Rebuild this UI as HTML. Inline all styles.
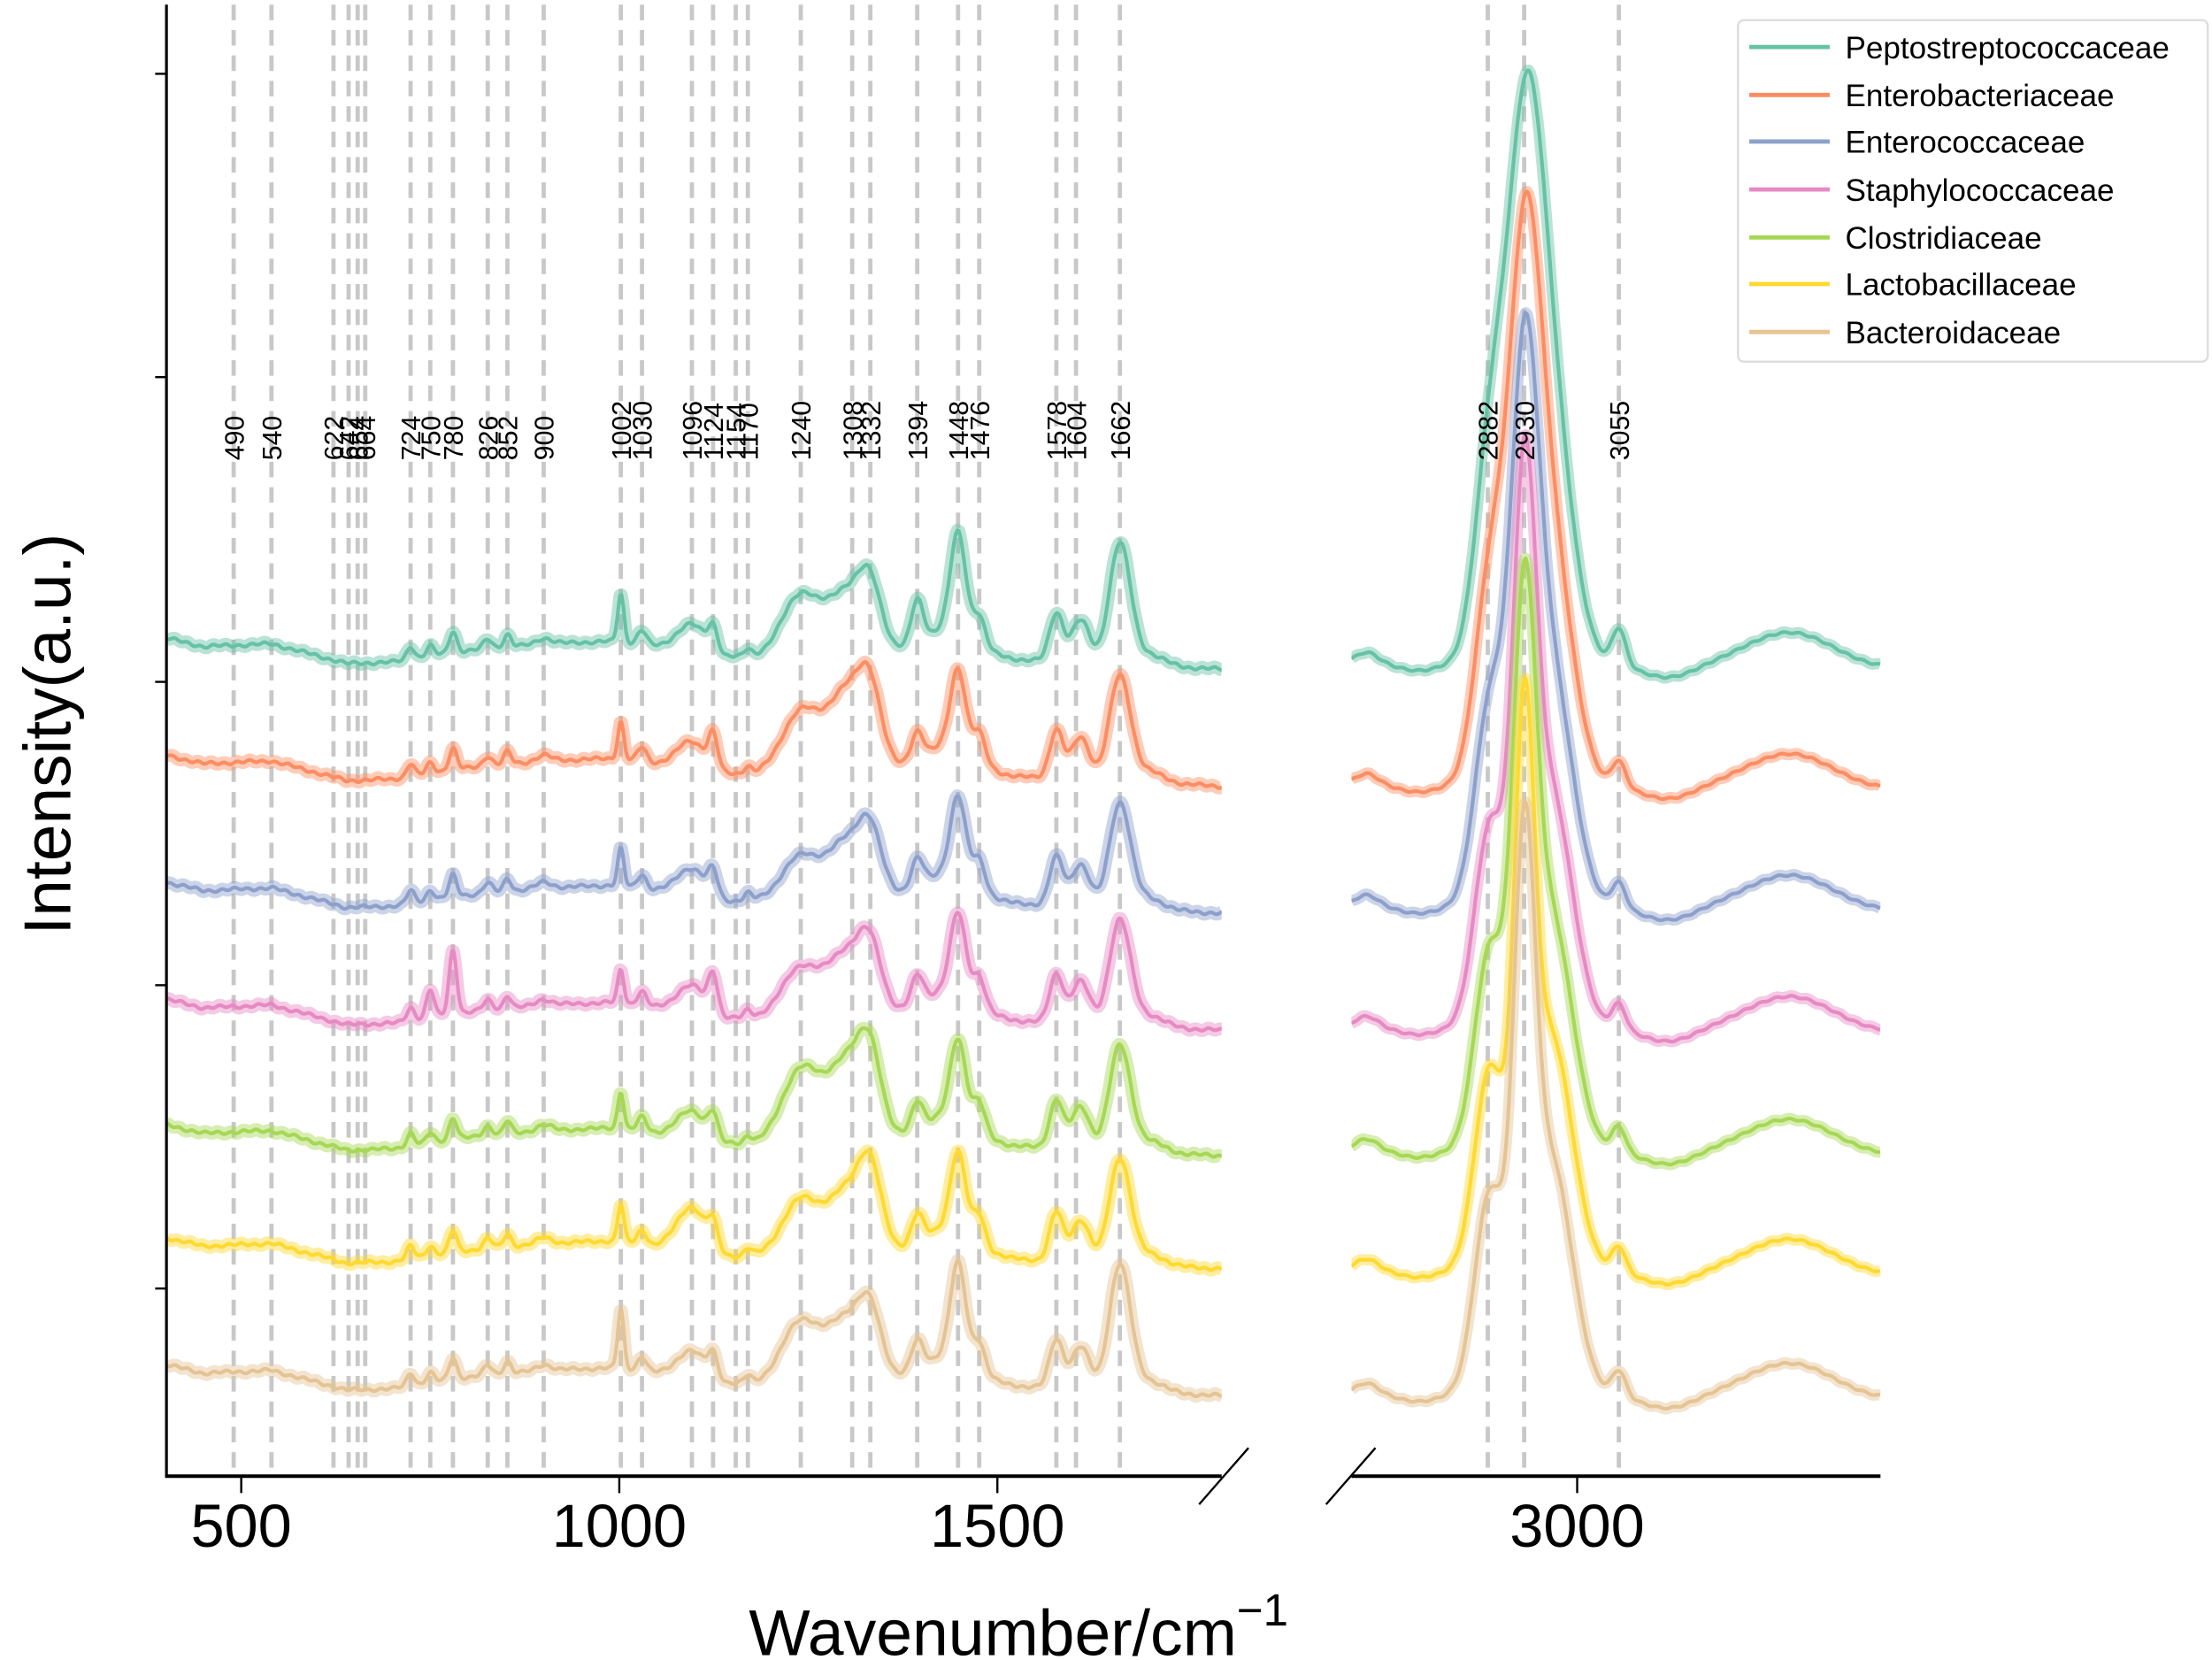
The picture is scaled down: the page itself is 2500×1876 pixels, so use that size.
<!DOCTYPE html>
<html><head><meta charset="utf-8"><style>
html,body{margin:0;padding:0;background:#fff;}
svg{display:block;}
text{font-family:"Liberation Sans",sans-serif;}
</style></head><body>
<svg id="s" width="2500" height="1876" viewBox="0 0 1568 1176" xmlns="http://www.w3.org/2000/svg">
<defs>
<clipPath id="cl"><rect x="118" y="0" width="748" height="1046"/></clipPath>
<clipPath id="cr"><rect x="958" y="0" width="375" height="1046"/></clipPath>
</defs>
<g id="vl"></g>
<g id="series"></g>
<line x1="118" y1="3" x2="118" y2="1046" stroke="#000" stroke-width="2"/>
<line x1="117" y1="1046" x2="866" y2="1046" stroke="#000" stroke-width="2.5"/>
<line x1="958" y1="1046" x2="1333" y2="1046" stroke="#000" stroke-width="2.5"/>
<g stroke="#000" stroke-width="1.5">
<line x1="110" y1="52" x2="118" y2="52"/><line x1="110" y1="267" x2="118" y2="267"/>
<line x1="110" y1="483" x2="118" y2="483"/><line x1="110" y1="698" x2="118" y2="698"/>
<line x1="110" y1="913" x2="118" y2="913"/>
<line x1="171" y1="1046" x2="171" y2="1058"/><line x1="439" y1="1046" x2="439" y2="1058"/>
<line x1="707" y1="1046" x2="707" y2="1058"/><line x1="1118" y1="1046" x2="1118" y2="1058"/>
<line x1="850" y1="1066" x2="885" y2="1026"/><line x1="940" y1="1066" x2="975" y2="1026"/>
</g>
<g font-size="43" text-anchor="middle" fill="#000">
<text x="171" y="1096">500</text><text x="439" y="1096">1000</text>
<text x="707" y="1096">1500</text><text x="1118" y="1096">3000</text>
</g>
<text x="722" y="1173" font-size="46" text-anchor="middle">Wavenumber/cm<tspan font-size="32" dy="-21">−1</tspan></text>
<text transform="translate(50,520) rotate(-90)" font-size="47" text-anchor="middle">Intensity(a.u.)</text>
<rect x="1232" y="14" width="333" height="242" rx="4" fill="#fff" fill-opacity="0.85" stroke="#ddd" stroke-width="1.5"/>
<g font-size="22" fill="#000">
<line x1="1240" y1="33" x2="1297" y2="33" stroke="#66c2a5" stroke-width="3"/><text x="1308" y="41">Peptostreptococcaceae</text>
<line x1="1240" y1="67" x2="1297" y2="67" stroke="#fc8d62" stroke-width="3"/><text x="1308" y="75">Enterobacteriaceae</text>
<line x1="1240" y1="100" x2="1297" y2="100" stroke="#8da0cb" stroke-width="3"/><text x="1308" y="108">Enterococcaceae</text>
<line x1="1240" y1="134" x2="1297" y2="134" stroke="#e78ac3" stroke-width="3"/><text x="1308" y="142">Staphylococcaceae</text>
<line x1="1240" y1="168" x2="1297" y2="168" stroke="#a6d854" stroke-width="3"/><text x="1308" y="176">Clostridiaceae</text>
<line x1="1240" y1="201" x2="1297" y2="201" stroke="#ffd92f" stroke-width="3"/><text x="1308" y="209">Lactobacillaceae</text>
<line x1="1240" y1="235" x2="1297" y2="235" stroke="#e5c494" stroke-width="3"/><text x="1308" y="243">Bacteroidaceae</text>
</g>
<g id="lbl" font-size="19" fill="#000"></g>
</svg>
<script>
var NS="http://www.w3.org/2000/svg";
function XL(w){return 171+(w-500)*0.536;}
function XR(w){return 1118+(w-3000)*0.537;}
function el(n,a,p){var e=document.createElementNS(NS,n);for(var k in a)e.setAttribute(k,a[k]);p.appendChild(e);return e;}
var vl=document.getElementById('vl'),lbl=document.getElementById('lbl');
var L=[490,540,622,642,654,664,724,750,780,826,852,900,1002,1030,1096,1124,1154,1170,1240,1308,1332,1394,1448,1476,1578,1604,1662];
var R=[2882,2930,3055];
function vline(x,t){el('line',{x1:x,y1:3,x2:x,y2:1046,stroke:'#c8c8c8','stroke-width':3,'stroke-dasharray':'11,7'},vl);
var tx=el('text',{transform:'translate('+(x+7)+',326) rotate(-90)'},lbl);tx.textContent=t;}
L.forEach(function(w){vline(XL(w),w)});R.forEach(function(w){vline(XR(w),w)});
function g(x,m,s){return Math.exp(-(x-m)*(x-m)/(2*s*s));}
function interp(pts,w){for(var i=0;i<pts.length-1;i++){if(w<=pts[i+1][0]){var t=(w-pts[i][0])/(pts[i+1][0]-pts[i][0]);return pts[i][1]+t*(pts[i+1][1]-pts[i][1]);}}return pts[pts.length-1][1];}
var base=[[401,0],[450,-6],[540,-4],[640,-18],[700,-17],[780,-10],[900,-4],[1000,-2],[1140,-14],[1200,-12],[1400,-8],[1520,-15],[1797,-22]];
var tmpl=[[724,9,5],[750,7,5],[780,15,5],[826,7,6],[852,9,5],[900,4,10],[1002,26,4],[1030,10,6],[1096,20,20],[1124,16,6],[1170,5,5],[1240,42,24],[1300,42,24],[1332,40,15],[1394,20,8],[1440,18,30],[1448,55,10],[1476,20,8],[1578,34,9],[1610,30,12],[1662,74,14],[1700,8,20]];
var S=[
{c:'#66c2a5',y0:452,yr:470,sc:{1448:1.25,1662:1.15,1002:1.3,1394:1.5},pw:24},
{c:'#fc8d62',y0:535,yr:556,sc:{1300:1.3,1332:1.2,1124:1.4},pw:21},
{c:'#8da0cb',y0:625,yr:642,sc:{1240:0.7,1300:0.9},pw:18},
{c:'#e78ac3',y0:708,yr:728,sc:{750:2.8,780:3,1002:0.9,1240:0.8,1124:1.6},pw:15},
{c:'#a6d854',y0:797,yr:815,sc:{1240:1.2,1300:1.3,1332:1.3},pw:15},
{c:'#ffd92f',y0:877,yr:900,sc:{1096:1.6,1240:0.9,1332:1.3},pw:13},
{c:'#e5c494',y0:967,yr:988,sc:{1002:1.6,1448:1.2,1662:1.2},pw:14}];
var sg=document.getElementById('series');
S.forEach(function(s,i){
 var d='';for(var w=401;w<=1797;w+=2){var v=interp(base,w);tmpl.forEach(function(p){var a=p[1]*(s.sc[p[0]]||1);v+=a*g(w,p[0],p[2]);});
  v+=0.8*Math.sin(w*0.37+i)+0.6*Math.sin(w*0.11+2*i);
  d+=(w==401?'M':'L')+XL(w).toFixed(1)+','+(s.y0-v).toFixed(1);}
 var gl=el('g',{'clip-path':'url(#cl)'},sg);
 el('path',{d:d,fill:'none',stroke:s.c,'stroke-opacity':0.45,'stroke-width':9,'stroke-linejoin':'round'},gl);
 el('path',{d:d,fill:'none',stroke:s.c,'stroke-width':2.6,'stroke-linejoin':'round'},gl);
 var pts=[],mx=0;for(var w=2702;w<=3400;w+=2){var m=0.7*g(w,2930,s.pw)+0.3*g(w,2885,20)+0.35*g(w,2965,28);pts.push([w,m]);if(m>mx)mx=m;}
 var d2='';pts.forEach(function(p,k){var w=p[0];var v=420*p[1]/mx+8*g(w,2722,15)-5*g(w,2790,25)+(i==0?26:18)*g(w,3055,9)-10*g(w,3120,35)+22*g(w,3280,55)-3*g(w,3400,40)+0.6*Math.sin(w*0.3+i);
  d2+=(k==0?'M':'L')+XR(w).toFixed(1)+','+(s.yr-v).toFixed(1);});
 var gr=el('g',{'clip-path':'url(#cr)'},sg);
 el('path',{d:d2,fill:'none',stroke:s.c,'stroke-opacity':0.45,'stroke-width':8,'stroke-linejoin':'round'},gr);
 el('path',{d:d2,fill:'none',stroke:s.c,'stroke-width':2.6,'stroke-linejoin':'round'},gr);
});
</script>
</body></html>
